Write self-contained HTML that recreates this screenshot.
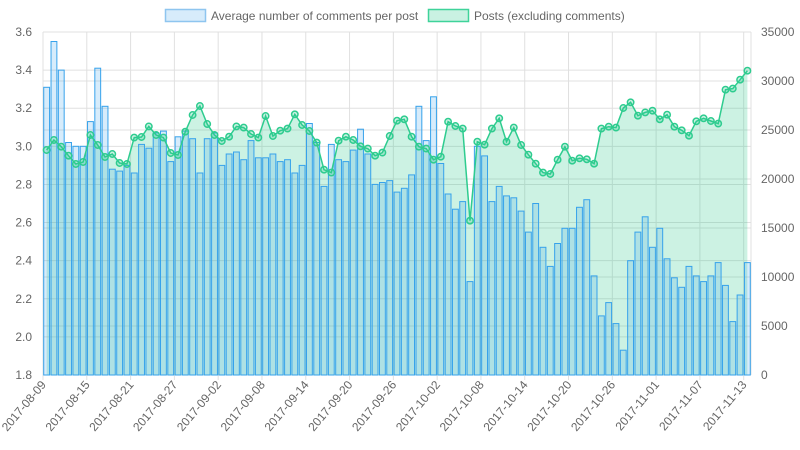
<!DOCTYPE html>
<html><head><meta charset="utf-8"><style>
body{margin:0;background:#fff;font-family:"Liberation Sans",sans-serif;}
svg{display:block}
</style></head><body>
<svg id="chart" width="800" height="450" xmlns="http://www.w3.org/2000/svg">
<g>
 <g>
  <rect x="165.5" y="9.5" width="40" height="12" fill="rgba(54,162,235,0.2)" stroke="#8ec5ef" stroke-width="1.5"/>
  <text x="211" y="20" font-size="12" fill="#666">Average number of comments per post</text>
 </g>
 <g>
  <rect x="428.5" y="9.5" width="40" height="12" fill="rgba(40,200,140,0.25)" stroke="#3fd39a" stroke-width="1.5"/>
  <text x="474" y="20" font-size="12" fill="#666">Posts (excluding comments)</text>
 </g>
</g>
<g id="grid"></g>
<g id="area"></g>
<g id="bars"></g>
<g id="line"></g>
<g id="axes"></g>
</svg>
<script>
const startDate = "2017-08-09";
const avgComments = [3.31,3.55,3.40,3.02,3.00,3.00,3.13,3.41,3.21,2.88,2.87,2.90,2.86,3.01,2.99,3.07,3.08,2.92,3.05,3.08,3.04,2.86,3.04,3.07,2.90,2.96,2.97,2.93,3.03,2.94,2.94,2.96,2.92,2.93,2.86,2.90,3.12,3.02,2.79,3.01,2.93,2.92,2.98,3.09,2.96,2.80,2.81,2.82,2.76,2.78,2.85,3.21,3.03,3.26,2.91,2.75,2.67,2.71,2.29,3.00,2.95,2.71,2.79,2.74,2.73,2.66,2.55,2.70,2.47,2.37,2.49,2.57,2.57,2.68,2.72,2.32,2.11,2.18,2.07,1.93,2.40,2.55,2.63,2.47,2.57,2.41,2.31,2.26,2.37,2.32,2.29,2.32,2.39,2.27,2.08,2.22,2.39];
const posts = [22960,23980,23300,22380,21530,21730,24490,23470,22240,22550,21630,21530,24220,24290,25370,24490,24220,22650,22450,24830,26530,27450,25610,24490,23880,24320,25370,25240,24590,24220,26430,24390,24930,25140,26600,25510,24900,23710,20950,20650,23910,24320,23980,23340,23100,22380,22690,24390,25950,26090,24320,23300,23100,21970,22280,25850,25410,25140,15750,23810,23500,25140,26190,23810,25240,23470,22480,21560,20650,20510,21970,23300,21870,22110,22010,21560,25140,25340,25240,27240,27830,26460,26800,26970,26090,26560,25340,24970,24420,25890,26190,25920,25650,29110,29220,30130,31050];
const leftTicks = [1.8,2.0,2.2,2.4,2.6,2.8,3.0,3.2,3.4,3.6];
const rightTicks = [0,5000,10000,15000,20000,25000,30000,35000];

const NS="http://www.w3.org/2000/svg";
const X0=43,X1=751,Y0=32,Y1=375;
const n=avgComments.length;
const band=(X1-X0)/n;
const xC=i=>X0+band*(i+0.5);
const yL=v=>Y1-(v-1.8)/(3.6-1.8)*(Y1-Y0);
const yR=v=>Y1-v/35000*(Y1-Y0);
function mk(tag,attrs,parent){const e=document.createElementNS(NS,tag);for(const k in attrs)e.setAttribute(k,attrs[k]);parent.appendChild(e);return e;}
const categories=[];
{const d0=new Date(startDate+"T00:00:00Z");for(let i=0;i<n;i++){const d=new Date(d0.getTime()+i*86400000);categories.push(d.toISOString().slice(0,10));}}

const grid=document.getElementById('grid');
leftTicks.forEach(t=>{const l=mk('line',{x1:X0,x2:X1,y1:yL(t),y2:yL(t),stroke:'#e0e0e0'},grid);

});
rightTicks.forEach(t=>{const l=mk('line',{x1:X0,x2:X1,y1:yR(t),y2:yR(t),stroke:'#e0e0e0'},grid);

});
for(let i=0;i<n;i+=6){const x=X0+band*i;const l=mk('line',{x1:x,x2:x,y1:Y0,y2:Y1+5,stroke:'#e0e0e0'},grid);

}
const vr=mk('line',{x1:X1,x2:X1,y1:Y0,y2:Y1,stroke:'#e0e0e0'},grid);



// area
const area=document.getElementById('area');
let d='M'+xC(0)+','+Y1;
posts.forEach((v,i)=>{d+=' L'+xC(i).toFixed(1)+','+yR(v).toFixed(1);});
d+=' L'+xC(n-1)+','+Y1+' Z';
const ap=mk('path',{d:d,fill:'rgba(40,200,140,0.24)'},area);



// bars
const bars=document.getElementById('bars');
const bw=band*0.8;
avgComments.forEach((v,i)=>{const y=yL(v);
const r=mk('rect',{x:(xC(i)-bw/2).toFixed(2),y:y.toFixed(1),width:bw.toFixed(2),height:(Y1-y).toFixed(1),fill:'rgba(54,162,235,0.2)',stroke:'#36a2eb','stroke-width':1},bars);

});

// line
const line=document.getElementById('line');
let ld='';
posts.forEach((v,i)=>{ld+=(i?' L':'M')+xC(i).toFixed(1)+','+yR(v).toFixed(1);});
const lp=mk('path',{d:ld,fill:'none',stroke:'#2ecc8f','stroke-width':1.5},line);


posts.forEach((v,i)=>{const c=mk('circle',{cx:xC(i).toFixed(1),cy:yR(v).toFixed(1),r:3.2,fill:'rgba(40,200,140,0.25)',stroke:'#2ecc8f','stroke-width':1.5},line);

});

// axes labels
const axes=document.getElementById('axes');
leftTicks.forEach(t=>{const e=mk('text',{x:X0-11,y:yL(t)+4,'text-anchor':'end','font-size':12,fill:'#666'},axes);e.textContent=t.toFixed(1);

});
rightTicks.forEach(t=>{const e=mk('text',{x:X1+10,y:yR(t)+4,'font-size':12,fill:'#666'},axes);e.textContent=t;

});
for(let i=0;i<n;i+=6){const x=xC(i),y=Y1+10;
const e=mk('text',{x:x,y:y,'text-anchor':'end','font-size':12,fill:'#666',transform:'rotate(-50 '+x+' '+y+')'},axes);e.textContent=categories[i];

}
</script>
</body></html>
